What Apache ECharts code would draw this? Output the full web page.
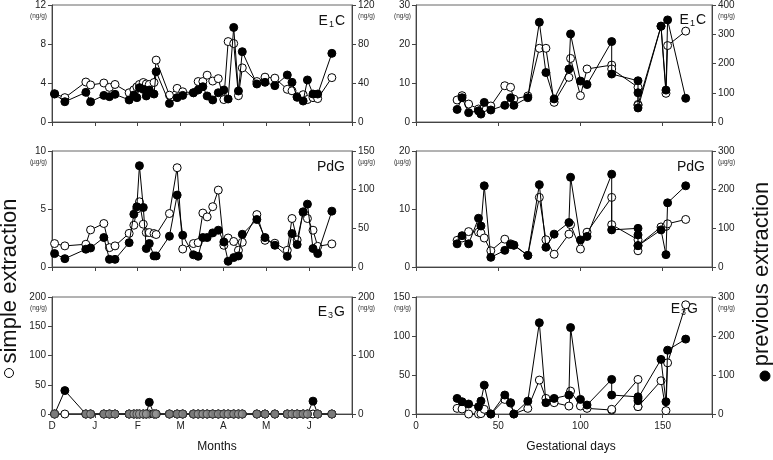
<!DOCTYPE html>
<html><head><meta charset="utf-8">
<script src="https://cdn.jsdelivr.net/npm/echarts/dist/echarts.min.js"></script>
<style>html,body{margin:0;padding:0;background:#fff}#c{width:773px;height:460px}</style>
</head><body><div id="c"></div>
<script>
// ---------- DATA ----------
const monthLabels = ['D','J','F','M','A','M','J',''];
// sample dates in months since start of December
const monthDates = [0.06,0.30,0.79,0.90,1.21,1.34,1.47,1.80,1.91,1.98,2.04,2.13,2.20,2.27,2.38,2.43,2.74,2.92,3.05,3.30,3.41,3.52,3.62,3.75,3.88,4.01,4.11,4.24,4.35,4.44,4.78,4.97,5.20,5.49,5.60,5.72,5.86,5.96,6.09,6.20,6.53];
const e1cSimpleM = [2.9,2.5,4.1,3.8,4.0,3.55,3.85,3.0,3.3,3.6,3.85,4.05,3.9,3.85,4.05,6.35,2.75,3.45,3.1,3.0,4.15,4.15,4.8,4.2,4.45,2.3,8.25,8.05,2.7,5.55,4.15,4.6,4.5,3.35,3.2,2.6,2.8,2.3,2.5,2.4,4.55];
const e1cPrevM = [28.7,20.8,30.4,20.8,27.3,26,28.4,22.6,27.7,25,35.2,33.5,26.7,32.8,28.7,51.6,19.1,25,27.3,30,32.8,36.2,26.7,22.6,30,32.8,23.6,97,31.8,72.1,39,40.7,37.3,48.2,40.7,25.3,21.5,43.1,28.7,28.7,70.4];
const pdgSimpleM = [2.02,1.82,1.96,3.2,3.75,1.67,1.82,2.9,3.6,5.0,5.62,3.69,2.97,2.97,2.88,2.8,4.61,8.56,1.55,2.02,2.1,4.65,4.32,5.2,6.63,1.87,2.5,2.2,1.44,2.13,4.52,2.3,2.05,1.44,4.18,2.33,4.7,4.18,3.17,1.78,1.99];
const pdgPrevM = [17.3,10.8,23,24.6,38.1,9.9,9.9,31.5,68.3,77.9,131,77,23.9,30.3,14.3,14.3,39.8,93,41.1,15.8,13.8,38.1,38.1,44.1,47.6,32.4,7.4,12.2,14.3,42.3,61.4,38.1,28.1,13.8,43.2,29,71.4,81.3,23.9,17.3,72.2];
const e3gSimpleM = [0,0,0,0,0,0,0,0,0,0, 0,0,0,0,0,0,0,0,0,0, 0,0,0,0,0,0,0,0,0,0, 0,0,0,0,0,0,0,0,0,0, 0];
const e3gPrevM = [0,40,0,0,0,0,0,0,0,0, 0,0,0,20,0,0,0,0,0,0, 0,0,0,0,0,0,0,0,0,0, 0,0,0,0,0,0,0,0,22,0, 0];

const gestDays = [25,28,32,38,39.5,41.5,45.5,54,57.5,59.5,68,75,79,84,93,94,100,104,119,119,135,135,135,149,152,153,164];
const e1cSimpleG = [5.64,6.75,4.6,3.33,3.0,3.7,4.1,9.3,8.9,5.9,6.67,18.9,18.9,5.04,11.45,16.3,6.75,13.6,14.6,13.6,8.9,4.5,4.3,24.6,7.35,19.6,23.3];
const e1cPrevG = [43,83,32,38,27,67,41,57,83,57,83,341,169,79,181,301,140,128,275,164,141,100,48,327,109,349,81];
const pdgSimpleG = [4.6,5.0,6.1,6.0,5.85,5.0,2.8,4.8,4.0,3.8,2.0,12.0,4.7,2.2,5.67,7.3,3.1,6.0,12.0,7.3,4.7,2.8,3.7,6.9,7.0,7.45,8.2];
const pdgPrevG = [60,81,60,126,106,210,25,43,58,56,30,213,51,85,115,232,70,79,240,96,100,83,55,96,32,166,210];
const e3gSimpleG = [7.2,6.4,0,0,0.5,6,0,18.7,14,0,7.2,43.5,20,14.5,10.2,29.4,10.2,7.2,5.1,6,44.3,9.4,9.4,42.6,4.3,65.6,140];
const e3gPrevG = [40,31.5,25.6,18.8,33.2,74,0,48.6,29,0,33,234,29,40,48.6,221.6,37.5,23,88.7,48.6,44,34,40,140,31.5,163.7,192];

// axis ranges: [max, interval]
const leftTicks  = [[12,4],[10,5],[200,50],[30,10],[20,10],[150,50]];
const rightTicks = [[120,40],[150,50],[200,100],[400,100],[300,100],[300,100]];
const unitsText  = ['(ng/g)','(\u00b5g/g)','(ng/g)','(ng/g)','(\u00b5g/g)','(ng/g)'];

// ---------- LAYOUT ----------
const FONT = '"Liberation Sans", Arial, sans-serif';
const AX = '#444';
const grids = [
  {left:52, top:5,   width:300, height:117},
  {left:52, top:151, width:300, height:116},
  {left:52, top:297, width:300, height:117},
  {left:416, top:5,   width:296, height:117},
  {left:416, top:151, width:296, height:116},
  {left:416, top:297, width:296, height:117}
];
const panels = [
  {x:'m', s:e1cSimpleM, p:e1cPrevM, title:['E','1','C'], tx:345, ty:21, lab:false},
  {x:'m', s:pdgSimpleM, p:pdgPrevM, title:['PdG'], tx:345, ty:167, lab:false},
  {x:'m', s:e3gSimpleM, p:e3gPrevM, title:['E','3','G'], tx:345, ty:312, lab:true},
  {x:'g', s:e1cSimpleG, p:e1cPrevG, title:['E','1','C'], tx:706, ty:20, lab:false},
  {x:'g', s:pdgSimpleG, p:pdgPrevG, title:['PdG'], tx:705, ty:167, lab:false},
  {x:'g', s:e3gSimpleG, p:e3gPrevG, title:['E','3','G'], tx:698, ty:309, lab:true}
];

const xAxes = [], yAxes = [], series = [], graphics = [];
const lineStyleCommon = {color:'#000', width:1};
panels.forEach((pn, i) => {
  const isM = pn.x === 'm';
  xAxes.push({
    type:'value', gridIndex:i, min:0, max: isM ? 7 : 180, interval: isM ? 1 : 50,
    axisLine:{onZero:false, lineStyle:{color:AX, width:1}},
    axisTick:{show:true, length:4, lineStyle:{color:AX}},
    splitLine:{show:false},
    axisLabel:{show:pn.lab, fontSize:10, color:'#222', fontFamily:FONT, margin:7,
      formatter: v => isM ? (monthLabels[Math.round(v)] || '') : (v % 50 === 0 ? String(v) : '')}
  });
  [[leftTicks[i],'left'],[rightTicks[i],'right']].forEach(([t,pos]) => {
    yAxes.push({
      type:'value', gridIndex:i, position:pos, min:0, max:t[0], interval:t[1],
      axisLine:{show:true, onZero:false, lineStyle:{color:AX, width:1}},
      axisTick:{show:true, length:4, lineStyle:{color:AX}},
      splitLine:{show:false},
      axisLabel:{fontSize:10, color:'#222', fontFamily:FONT, margin:6}
    });
  });
  const xs = isM ? monthDates : gestDays;
  series.push({
    type:'line', xAxisIndex:i, yAxisIndex:2*i, name:'simple',
    data: xs.map((d,k)=>[d, pn.s[k]]),
    symbol:'circle', symbolSize:8, showSymbol:true, showAllSymbol:true,
    lineStyle:lineStyleCommon,
    itemStyle:{color:'#fff', borderColor:'#000', borderWidth:1},
    z:2, silent:true, animation:false
  });
  series.push({
    type:'line', xAxisIndex:i, yAxisIndex:2*i+1, name:'previous',
    data: xs.map((d,k)=>[d, pn.p[k]]),
    symbol:'circle', symbolSize:8, showSymbol:true, showAllSymbol:true,
    lineStyle:lineStyleCommon,
    itemStyle:{color:'#000', borderColor:'#000', borderWidth:1},
    z:3, silent:true, animation:false
  });
  if (i === 2) {
    // samples where both extractions give zero are drawn grey
    series.push({
      type:'scatter', xAxisIndex:i, yAxisIndex:2*i,
      data: xs.map((d,k)=> (pn.s[k]===0 && pn.p[k]===0) ? [d,0] : null).filter(Boolean),
      symbol:'circle', symbolSize:8,
      itemStyle:{color:'#9a9a9a', borderColor:'#333', borderWidth:1},
      z:4, silent:true, animation:false
    });
  }
  const g = grids[i];
  graphics.push({type:'text', silent:true, style:{text:unitsText[i], x:g.left-5, y:g.top+11,
    align:'right', verticalAlign:'middle', font:'6.5px '+FONT, fill:'#333'}});
  graphics.push({type:'text', silent:true, style:{text:unitsText[i], x:g.left+g.width+6, y:g.top+11,
    align:'left', verticalAlign:'middle', font:'6.5px '+FONT, fill:'#333'}});
  const t = pn.title;
  const txt = t.length === 3 ? '{b|'+t[0]+'}{s|'+t[1]+'}{b|'+t[2]+'}' : '{b|'+t[0]+'}';
  graphics.push({type:'text', silent:true, style:{text:txt, x:pn.tx, y:pn.ty, align:'right', verticalAlign:'middle',
    rich:{ b:{fontSize:14, fontFamily:FONT, fill:'#111', lineHeight:16},
           s:{fontSize:9, fontFamily:FONT, fill:'#111', lineHeight:8, verticalAlign:'bottom', padding:[0,1,0,1]} }}});
});

graphics.push({type:'text', silent:true, style:{text:'Months', x:217, y:447, align:'center', verticalAlign:'middle', font:'12px '+FONT, fill:'#111'}});
graphics.push({type:'text', silent:true, style:{text:'Gestational days', x:571, y:447, align:'center', verticalAlign:'middle', font:'12px '+FONT, fill:'#111'}});
graphics.push({type:'text', silent:true, rotation:Math.PI/2, x:10, y:281, style:{text:'simple extraction', x:0, y:0, align:'center', verticalAlign:'middle', font:'22px '+FONT, fill:'#111'}});
graphics.push({type:'circle', silent:true, shape:{cx:9, cy:373, r:4.5}, style:{fill:'#fff', stroke:'#000', lineWidth:1}});
graphics.push({type:'text', silent:true, rotation:Math.PI/2, x:762, y:274, style:{text:'previous extraction', x:0, y:0, align:'center', verticalAlign:'middle', font:'22px '+FONT, fill:'#111'}});
graphics.push({type:'circle', silent:true, shape:{cx:765, cy:376, r:5}, style:{fill:'#000', stroke:'#000', lineWidth:1}});

const chart = echarts.init(document.getElementById('c'), null, {renderer:'canvas'});
chart.setOption({
  animation:false,
  backgroundColor:'#fff',
  grid: grids.map(g => Object.assign({show:true, borderColor:'#666', borderWidth:1, backgroundColor:'transparent'}, g)),
  xAxis: xAxes,
  yAxis: yAxes,
  series: series,
  graphic: graphics
});
</script></body></html>
